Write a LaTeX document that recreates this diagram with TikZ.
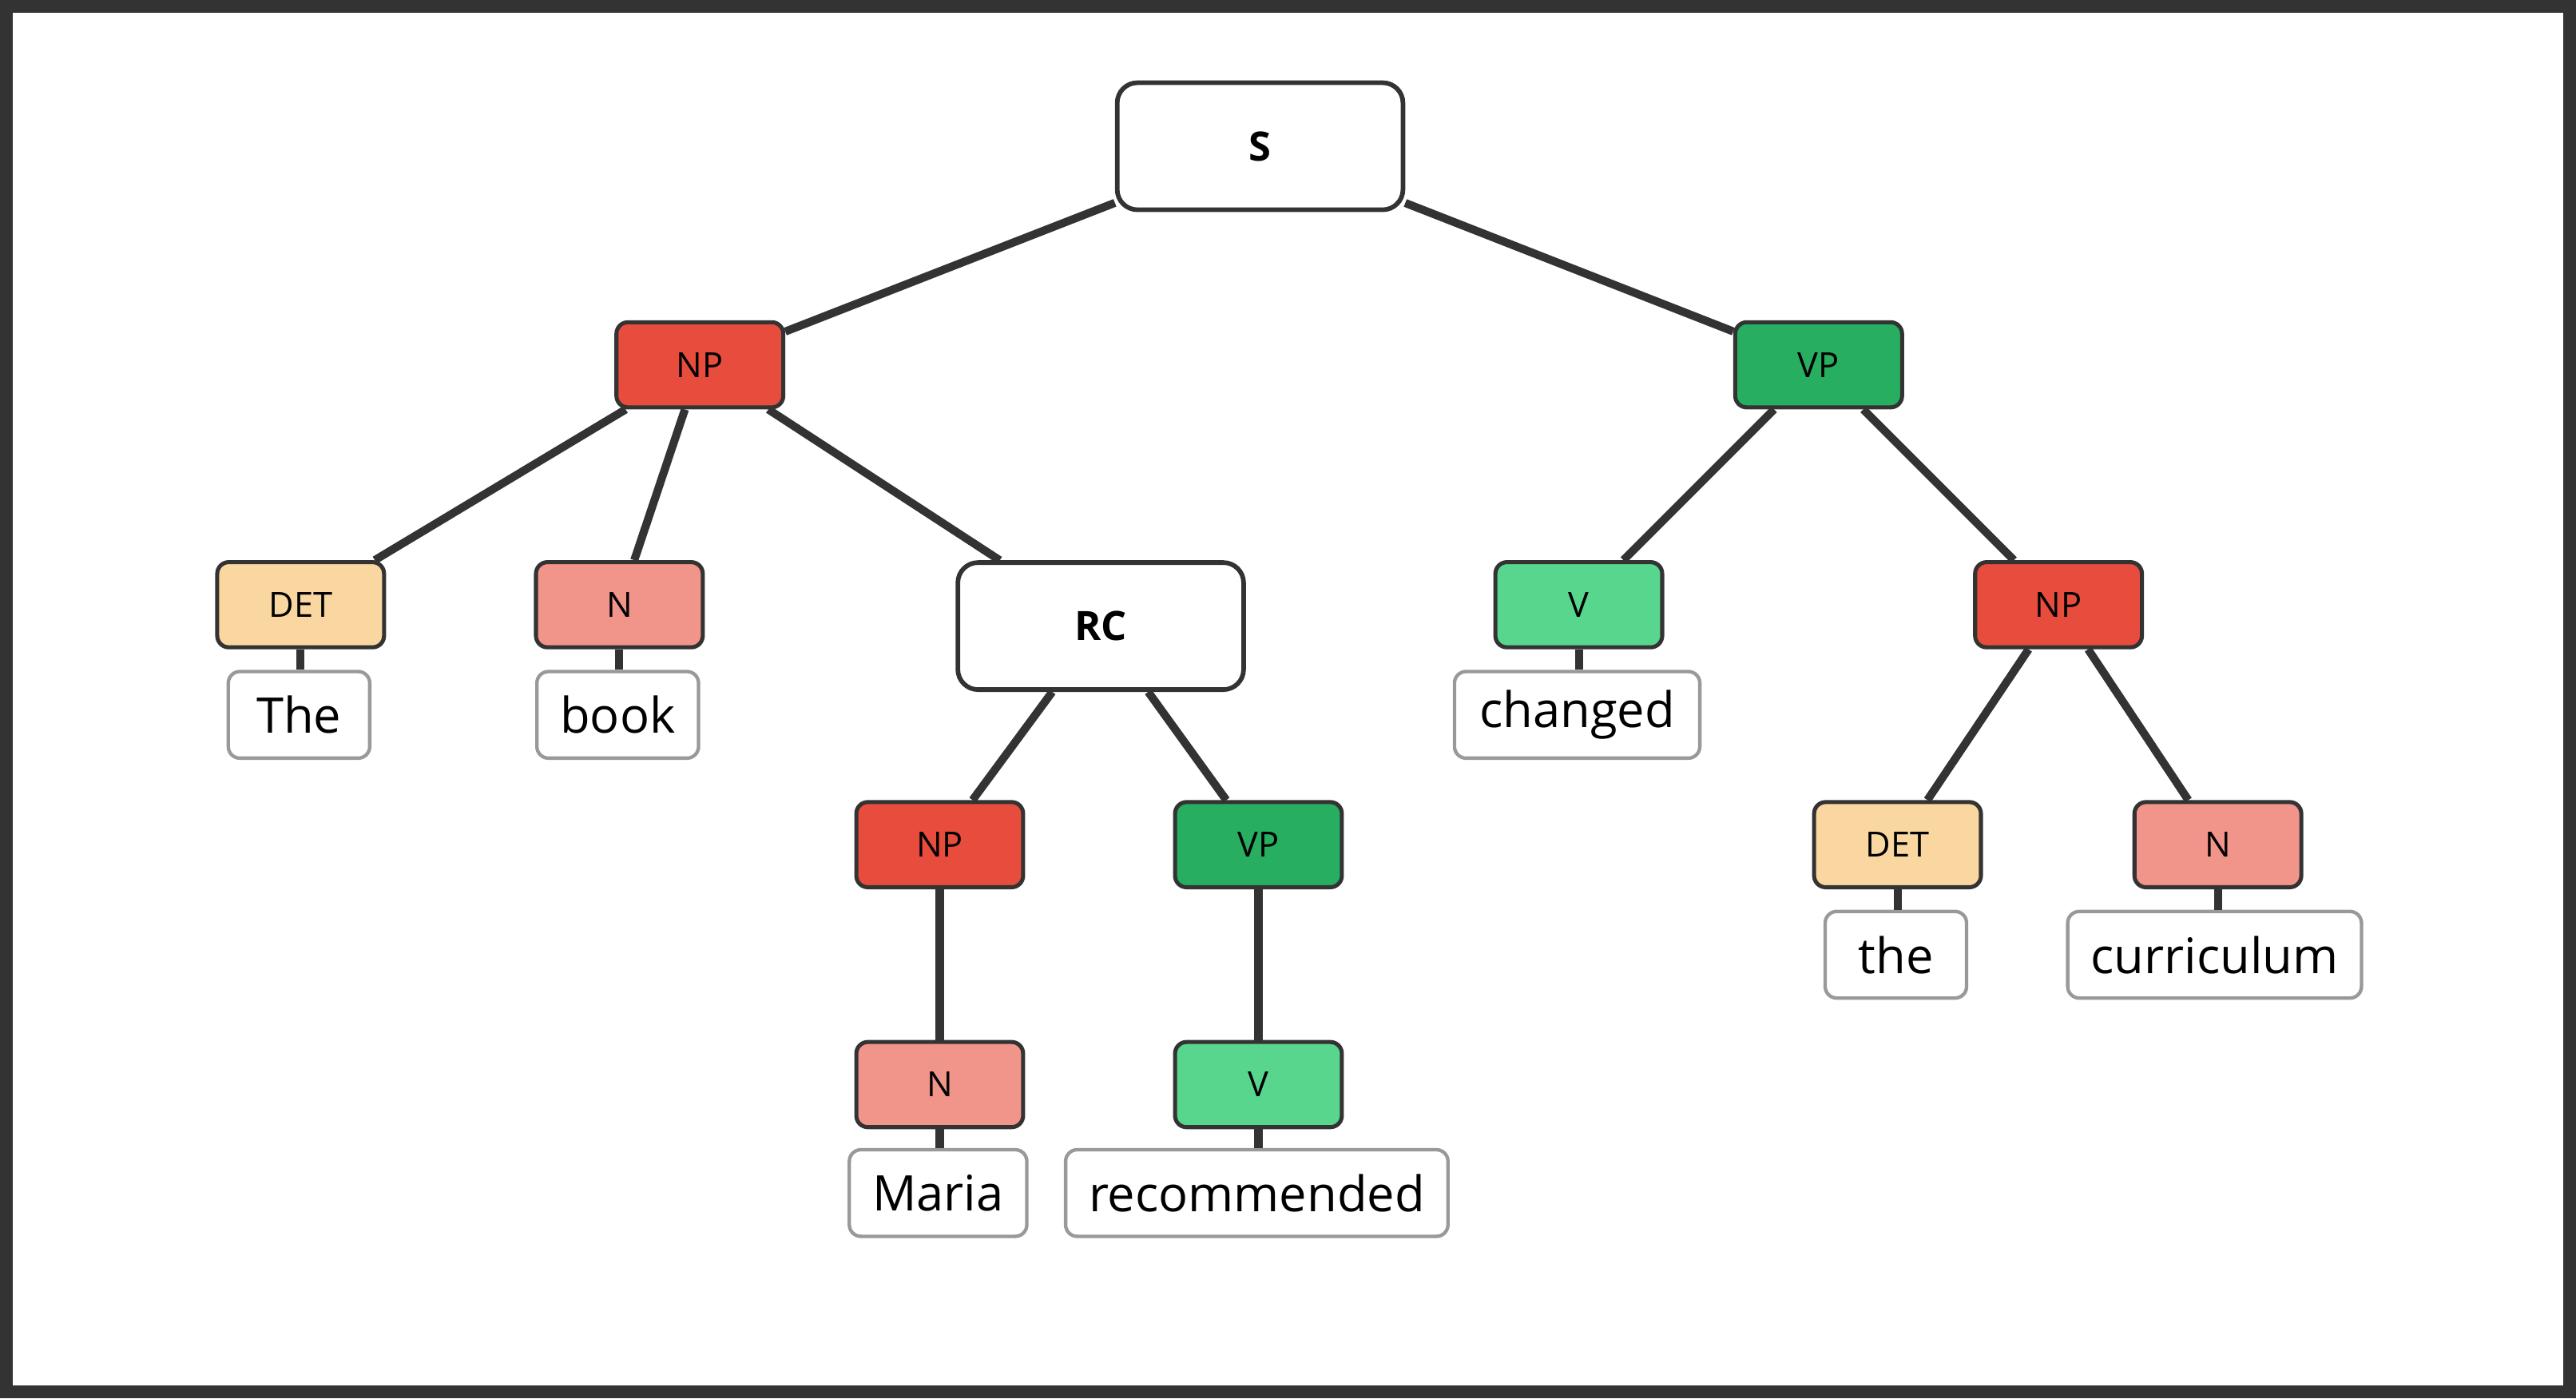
\documentclass[tikz,border=0pt]{standalone}
\usepackage{fontspec}
\setmainfont{Open Sans}
\definecolor{npred}{HTML}{E74C3C}
\definecolor{vpgreen}{HTML}{27AE60}
\definecolor{vgreen}{HTML}{58D68D}
\definecolor{nsalmon}{HTML}{F1948A}
\definecolor{detpeach}{HTML}{FAD7A0}
\definecolor{edge}{HTML}{333333}
\tikzset{
    tag/.style={draw=edge, line width=1.4pt, rounded corners=4pt, minimum width=57.8pt, minimum height=29.5pt, font=\fontsize{12}{14}\selectfont, inner sep=0pt},
    phrase/.style={draw=edge, line width=1.6pt, fill=white, rounded corners=7pt, minimum width=99pt, minimum height=44pt, font=\fontsize{14}{16}\selectfont\bfseries},
    word/.style={draw=gray!80, line width=1.2pt, fill=white, rounded corners=4pt, minimum height=30pt, inner xsep=8pt, font=\fontsize{17}{19}\selectfont},
    link/.style={draw=edge, line width=2.8pt},
}
\begin{document}
\begin{tikzpicture}[x=0.02cm, y=-0.02cm]
    \useasboundingbox (0,0) rectangle (1568,851);
    \draw[edge, line width=4.5pt] (4,4) rectangle (1564,847);
    %Phrase nodes
        \node[phrase] (s) at (767,89) {S};
        \node[tag, fill=npred] (np) at (426,222) {NP};
        \node[tag, fill=vpgreen] (vp) at (1107,222) {VP};
        \node[tag, fill=detpeach] (det) at (183,368) {DET};
        \node[tag, fill=nsalmon] (n) at (377,368) {N};
        \node[phrase] (rc) at (670,381) {RC};
        \node[tag, fill=vgreen] (v) at (961,368) {V};
        \node[tag, fill=npred] (npobj) at (1253,368) {NP};
        \node[tag, fill=npred] (nprc) at (572,514) {NP};
        \node[tag, fill=vpgreen] (vprc) at (766,514) {VP};
        \node[tag, fill=detpeach] (detobj) at (1155,514) {DET};
        \node[tag, fill=nsalmon] (nobj) at (1350,514) {N};
        \node[tag, fill=nsalmon] (nrc) at (572,660) {N};
        \node[tag, fill=vgreen] (vrc) at (766,660) {V};
    %Words
        \node[word, minimum width=49pt] (wthe) at (182,435) {The};
        \node[word, minimum width=56pt] (wbook) at (376,435) {book};
        \node[word, minimum width=85pt] (wchanged) at (960,435) {changed};
        \node[word, minimum width=49pt] (wthe2) at (1154,581) {the};
        \node[word, minimum width=100pt] (wcurr) at (1348,581) {curriculum};
        \node[word, minimum width=61pt] (wmaria) at (571,726) {Maria};
        \node[word, minimum width=131pt] (wrec) at (765,726) {recommended};
    %Branches
        \draw[link] (s) -- (np);
        \draw[link] (s) -- (vp);
        \draw[link] (np) -- (det);
        \draw[link] (np) -- (n);
        \draw[link] (np) -- (rc);
        \draw[link] (vp) -- (v);
        \draw[link] (vp) -- (npobj);
        \draw[link] (rc) -- (nprc);
        \draw[link] (rc) -- (vprc);
        \draw[link] (npobj) -- (detobj);
        \draw[link] (npobj) -- (nobj);
        \draw[link] (nprc) -- (nrc);
        \draw[link] (vprc) -- (vrc);
    %Leaves
        \draw[link] (det) -- (det |- wthe.north);
        \draw[link] (n) -- (n |- wbook.north);
        \draw[link] (v) -- (v |- wchanged.north);
        \draw[link] (detobj) -- (detobj |- wthe2.north);
        \draw[link] (nobj) -- (nobj |- wcurr.north);
        \draw[link] (nrc) -- (nrc |- wmaria.north);
        \draw[link] (vrc) -- (vrc |- wrec.north);
\end{tikzpicture}
\end{document}
